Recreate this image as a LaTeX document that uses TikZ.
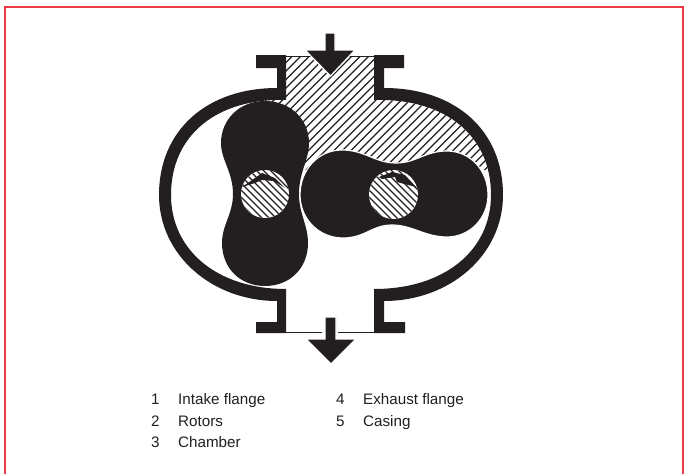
\documentclass[tikz,border=0pt]{standalone}
\usepackage{fontspec}
\setmainfont{Liberation Sans}
\definecolor{ink}{HTML}{231F20}
\definecolor{framered}{HTML}{EE3A47}
\tikzset{
  solidpart/.style={fill=ink,draw=none},
  hatchline/.style={draw=ink,line width=1.4pt},
  holeline/.style={draw=ink,line width=1.4pt},
  halo/.style={draw=white,line width=1.2pt,fill=ink},
  legend/.style={anchor=base west,inner sep=0pt,text=ink,font=\fontsize{15.2}{18}\selectfont},
}
\begin{document}
\begin{tikzpicture}[x=1pt,y=-1pt]
\useasboundingbox (0,0) rectangle (686,474);
\fill[white] (0,0) rectangle (686,474);
% frame
\draw[framered,line width=1.6pt] (4.7,474) -- (4.7,7) -- (682.8,7) -- (682.8,474);
% chamber hatch
\begin{scope}
  \clip (286,57) -- (374,57) -- (374,100) .. controls (445,98) and (491,135) .. (491,195) -- (300,195) -- (265,130) -- (265,100) -- (286,100) -- cycle;
  \clip (200,40) rectangle (500,169);
  \foreach \c in {340,348.5,...,680} {
    \draw[hatchline] ({\c-40},40) -- ({\c-200},200);
  }
\end{scope}
% casing halves with flanges
\fill[solidpart] (256,55) -- (286,55) -- (286,100) .. controls (217,98) and (171,135) .. (171,195) .. controls (171,250) and (217,289) .. (286,289) -- (286,333) -- (256,333) -- (256,322) -- (277,322) -- (277,301) .. controls (212,301) and (159,255) .. (159,195) .. controls (159,130) and (207,88) .. (277,88) -- (277,68) -- (256,68) -- cycle;
\fill[solidpart] (404,55) -- (374,55) -- (374,100) .. controls (445,98) and (491,135) .. (491,195) .. controls (491,250) and (445,289) .. (374,289) -- (374,333) -- (405,333) -- (405,322) -- (384,322) -- (384,301) .. controls (450,301) and (503,255) .. (503,195) .. controls (503,130) and (455,88) .. (384,88) -- (384,68) -- (404,68) -- cycle;
% thin closing lines of the flanges
\draw[ink,line width=0.8pt] (286,56) -- (374,56);
\draw[ink,line width=1pt] (286,332) -- (322,332);
\draw[ink,line width=1pt] (338,332) -- (374,332);
% left rotor
\path[solidpart] (265,101) .. controls (291,101) and (309,120) .. (309,143) .. controls (309,160) and (299,172) .. (299,194) .. controls (299,214) and (308,225) .. (308,243) .. controls (308,268) and (290,286) .. (265,286) .. controls (240,286) and (222,268) .. (222,243) .. controls (222,225) and (233,214) .. (233,194) .. controls (233,172) and (221,160) .. (221,143) .. controls (221,120) and (239,101) .. (265,101) -- cycle;
% right rotor
\path[halo] (342,150) .. controls (365,150) and (375,163) .. (396,163) .. controls (416,163) and (425,151) .. (447,151) .. controls (470,151) and (488,170) .. (488,195) .. controls (488,218) and (470,237) .. (447,237) .. controls (425,237) and (412,225) .. (392,225) .. controls (372,225) and (365,238) .. (343,238) .. controls (318,238) and (300,218) .. (300,195) .. controls (300,170) and (318,150) .. (342,150) -- cycle;
% left shaft
\fill[white] (265,194) circle (24);
\begin{scope}
  \clip (265,194) circle (24);
  \foreach \c in {37,44,...,107} {
    \draw[holeline] ({\c+150},150) -- ({\c+240},240);
  }
\end{scope}
\fill[ink] (242,187) -- (255,178) -- (262,173) -- (275,178) -- (285,188) -- (274,181) -- (262,180) -- (255,183) -- cycle;
% right shaft
\fill[white] (393.5,194.5) circle (24.5);
\begin{scope}
  \clip (393.5,194.5) circle (24.5);
  \foreach \c in {165,172,...,235} {
    \draw[holeline] ({\c+150},150) -- ({\c+240},240);
  }
\end{scope}
\fill[ink] (379,177) -- (392,172) -- (405,175) -- (416,187) -- (397,182) -- (395,177) -- (382,179) -- cycle;
% intake arrow
\path[halo] (305,50) -- (325,50) -- (325,33) -- (335,33) -- (335,50) -- (355,50) -- (330.5,76) -- cycle;
% exhaust arrow
\path[halo] (325,317) -- (336,317) -- (336,339) -- (356,339) -- (331,364) -- (306,339) -- (325,339) -- cycle;
% legend
\node[legend] (n1) at (151,404) {1};
\node[legend] (t1) at (178,404) {Intake flange};
\node[legend] (n2) at (151,426) {2};
\node[legend] (t2) at (178,426) {Rotors};
\node[legend] (n3) at (151,447) {3};
\node[legend] (t3) at (178,447) {Chamber};
\node[legend] (n4) at (336,404) {4};
\node[legend] (t4) at (363,404) {Exhaust flange};
\node[legend] (n5) at (336,426) {5};
\node[legend] (t5) at (363,426) {Casing};
\end{tikzpicture}
\end{document}
